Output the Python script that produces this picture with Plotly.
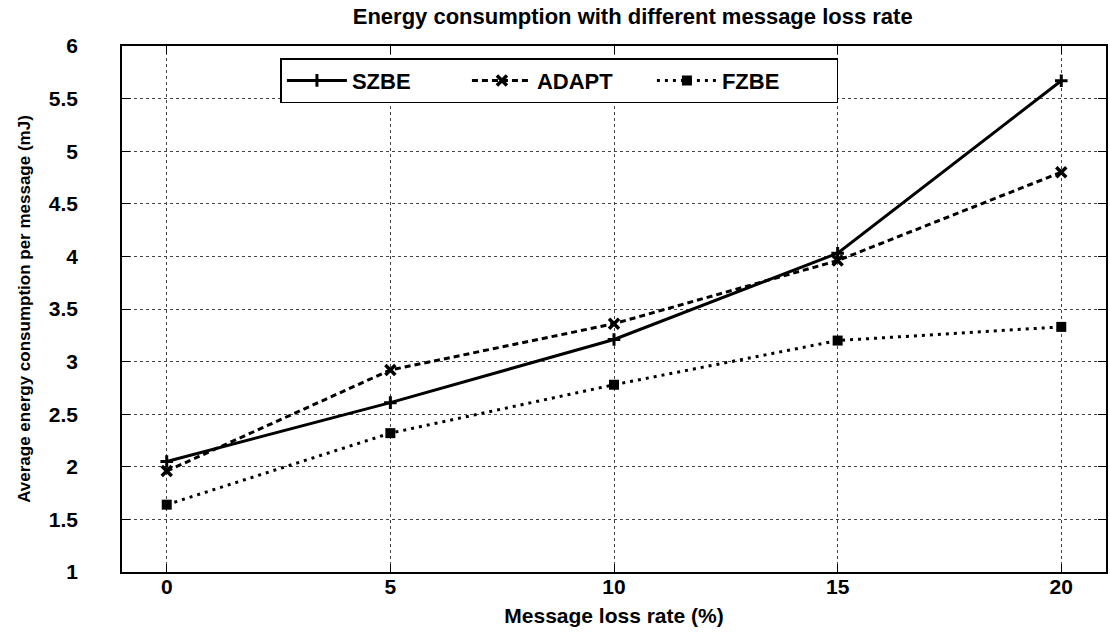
import plotly.graph_objects as go

loss_rate = [0, 5, 10, 15, 20]
szbe = [2.05, 2.61, 3.21, 4.03, 5.67]
adapt = [1.96, 2.92, 3.36, 3.96, 4.80]
fzbe = [1.64, 2.32, 2.78, 3.20, 3.33]
y_ticks = [1, 1.5, 2, 2.5, 3, 3.5, 4, 4.5, 5, 5.5, 6]
y_ticktext = ["1", "1.5", "2", "2.5", "3", "3.5", "4", "4.5", "5", "5.5", "6"]

FONT = "Liberation Sans, Arial, sans-serif"

fig = go.Figure()
fig.add_trace(go.Scatter(x=loss_rate, y=szbe, name="<b>SZBE</b>", mode="lines+markers",
                         line=dict(color="black", width=3, dash="solid"),
                         marker=dict(symbol="cross-thin", size=9, color="black",
                                     line=dict(width=3, color="black"))))
fig.add_trace(go.Scatter(x=loss_rate, y=adapt, name="<b>ADAPT</b>", mode="lines+markers",
                         line=dict(color="black", width=3, dash="6px,4px"),
                         marker=dict(symbol="x-thin", size=10, color="black",
                                     line=dict(width=3.5, color="black"))))
fig.add_trace(go.Scatter(x=loss_rate, y=fzbe, name="<b>FZBE</b>", mode="lines+markers",
                         line=dict(color="black", width=3, dash="3px,5px"),
                         marker=dict(symbol="square", size=10, color="black")))

axis_common = dict(showline=True, linecolor="black", linewidth=1.5, mirror="ticks",
                   ticks="inside", ticklen=8, tickwidth=1.2, tickcolor="black",
                   showgrid=True, gridcolor="#444444", gridwidth=1, griddash="dot",
                   zeroline=False,
                   tickfont=dict(family=FONT, size=21, color="black", weight="bold"))

fig.update_xaxes(range=[-1, 21], tickvals=loss_rate, ticktext=[str(v) for v in loss_rate],
                 ticklabelstandoff=-5,
                 title=dict(text="<b>Message loss rate (%)</b>", standoff=11,
                            font=dict(family=FONT, size=21, color="black")),
                 **axis_common)
fig.update_yaxes(range=[1, 6], tickvals=y_ticks, ticktext=y_ticktext,
                 ticklabelstandoff=38,
                 title=dict(text="<b>Average energy consumption per message (mJ)</b>", standoff=14,
                            font=dict(family=FONT, size=17, color="black")),
                 **axis_common)

fig.update_layout(
    width=1110, height=634,
    margin=dict(l=122, r=2, t=46, b=62),
    paper_bgcolor="white", plot_bgcolor="white",
    title=dict(text="<b>Energy consumption with different message loss rate</b>",
               x=0.570, xanchor="center", y=0.975, yanchor="middle",
               font=dict(family=FONT, size=22, color="black")),
    showlegend=True,
    legend=dict(orientation="h", x=0.161, xanchor="left", y=0.977, yanchor="top",
                bgcolor="white", bordercolor="black", borderwidth=1.5,
                font=dict(family=FONT, size=22, color="black"),
                itemwidth=60, entrywidth=110, entrywidthmode="pixels"),
)

fig.write_html("out.html")
